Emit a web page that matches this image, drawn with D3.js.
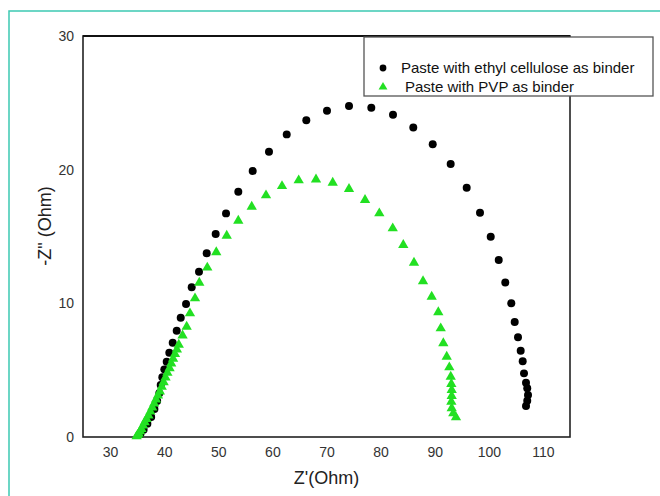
<!DOCTYPE html>
<html>
<head>
<meta charset="utf-8">
<script src="https://cdn.jsdelivr.net/npm/d3@7"></script>
<style>
  body { margin: 0; background: #fff; }
  svg { display: block; font-family: "Liberation Sans", Arial, sans-serif; }
</style>
</head>
<body>
<div id="chart"></div>
<script>
// Nyquist data: Z' (Ohm) and -Z'' (Ohm)
const ecZre = [35.6, 36.2, 36.9, 37.6, 38.2, 38.7, 39.1, 39.36, 39.66, 40.03, 40.47, 40.95, 41.58, 42.32, 43.06, 44.04, 45.09, 46.44, 47.86, 49.52, 51.43, 53.7, 56.36, 59.37, 62.65, 66.27, 70.09, 74.16, 78.28, 82.29, 86.04, 89.63, 92.95, 95.91, 98.37, 100.35, 101.83, 103.04, 104.15, 104.78, 105.39, 105.89, 106.26, 106.5, 106.87, 107.1, 107.24, 107.1, 106.87];
const ecZim = [0.2, 0.55, 1.0, 1.5, 2.1, 2.7, 3.27, 3.89, 4.47, 5.06, 5.63, 6.31, 7.05, 7.95, 8.92, 9.95, 11.2, 12.36, 13.74, 15.18, 16.73, 18.35, 19.9, 21.34, 22.64, 23.69, 24.41, 24.76, 24.63, 24.1, 23.16, 21.91, 20.42, 18.65, 16.78, 14.98, 13.24, 11.56, 10.0, 8.6, 7.46, 6.45, 5.66, 4.76, 4.06, 3.64, 3.14, 2.71, 2.32];

const pvpZre = [34.9, 35.1, 35.3, 35.55, 35.8, 36.1, 36.4, 36.75, 37.1, 37.45, 37.8, 38.15, 38.5, 38.85, 39.2, 39.55, 39.9, 40.25, 40.6, 41.0, 41.3, 41.65, 42.0, 42.35, 42.7, 43.4, 44.16, 44.77, 45.7, 46.49, 47.97, 49.63, 51.56, 53.7, 56.18, 58.82, 61.78, 64.86, 68.06, 71.15, 74.16, 77.12, 79.76, 82.24, 84.19, 86.17, 87.84, 89.44, 90.66, 91.11, 91.59, 92.22, 92.7, 92.96, 93.07, 93.14, 93.14, 93.07, 93.14, 93.43, 93.93];
const pvpZim = [0.05, 0.15, 0.25, 0.42, 0.6, 0.85, 1.1, 1.35, 1.6, 1.9, 2.2, 2.5, 2.8, 3.1, 3.4, 3.75, 4.1, 4.45, 4.8, 5.15, 5.5, 5.85, 6.2, 6.55, 6.9, 7.6, 8.25, 9.25, 10.37, 11.54, 12.67, 13.82, 15.06, 16.18, 17.23, 18.08, 18.77, 19.2, 19.27, 19.02, 18.55, 17.73, 16.73, 15.61, 14.36, 13.04, 11.65, 10.49, 9.33, 8.13, 7.01, 6.01, 5.21, 4.51, 3.96, 3.52, 3.07, 2.64, 2.15, 1.77, 1.47];

const xTicks = [30, 40, 50, 60, 70, 80, 90, 100, 110];
const yTicks = [0, 10, 20, 30];
const seriesNames = ["Paste with ethyl cellulose as binder", "Paste with PVP as binder"];

const width = 660, height = 496;
const plot = { left: 83, top: 36, right: 570, bottom: 437 };
const green = "#22e022";

const svg = d3.select("#chart").append("svg")
  .attr("width", width)
  .attr("height", height);

// teal page frame (only top and left edges show)
svg.append("rect")
  .attr("x", 9).attr("y", 11)
  .attr("width", 800).attr("height", 700)
  .attr("fill", "none")
  .attr("stroke", "#3cc9b2")
  .attr("stroke-width", 1.5);

const x = d3.scaleLinear().domain([25, 115]).range([plot.left, plot.right]);
const y = d3.scaleLinear().domain([0, 30]).range([plot.bottom, plot.top]);

// plot frame
svg.append("rect")
  .attr("x", plot.left).attr("y", plot.top)
  .attr("width", plot.right - plot.left)
  .attr("height", plot.bottom - plot.top)
  .attr("fill", "none")
  .attr("stroke", "#222")
  .attr("stroke-width", 1.6);
svg.append("line")
  .attr("x1", plot.left).attr("x2", plot.right)
  .attr("y1", plot.top).attr("y2", plot.top)
  .attr("stroke", "#111").attr("stroke-width", 2.2);

// axes: labels only, no tick marks
const xAxis = svg.append("g")
  .attr("transform", `translate(0,${plot.bottom})`)
  .call(d3.axisBottom(x).tickValues(xTicks).tickSize(0).tickPadding(10));
const yAxis = svg.append("g")
  .attr("transform", `translate(${plot.left},0)`)
  .call(d3.axisLeft(y).tickValues(yTicks).tickSize(0).tickPadding(9));
[xAxis, yAxis].forEach(g => {
  g.select(".domain").remove();
  g.selectAll("text")
    .attr("fill", "#333")
    .style("font-size", "14px")
    .style("font-family", "'Liberation Sans', Arial, sans-serif");
});

svg.append("text")
  .attr("x", (plot.left + plot.right) / 2)
  .attr("y", 484)
  .attr("text-anchor", "middle")
  .attr("fill", "#222")
  .style("font-size", "18px")
  .text("Z'(Ohm)");

svg.append("text")
  .attr("transform", "translate(51,226) rotate(-90)")
  .attr("text-anchor", "middle")
  .attr("fill", "#222")
  .style("font-size", "18px")
  .text('-Z" (Ohm)');

const circle = d3.symbol().type(d3.symbolCircle).size(50);
const tri = d3.symbol().type(d3.symbolTriangle).size(46);

svg.append("g").selectAll("path")
  .data(ecZre.map((v, i) => [v, ecZim[i]]))
  .join("path")
  .attr("transform", d => `translate(${x(d[0])},${y(d[1])})`)
  .attr("d", circle)
  .attr("fill", "#000");

svg.append("g").selectAll("path")
  .data(pvpZre.map((v, i) => [v, pvpZim[i]]))
  .join("path")
  .attr("transform", d => `translate(${x(d[0])},${y(d[1])})`)
  .attr("d", tri)
  .attr("fill", green);

// legend box sits over the top right corner of the frame
const legend = svg.append("g");
legend.append("rect")
  .attr("x", 364).attr("y", 37)
  .attr("width", 289).attr("height", 59)
  .attr("fill", "#fff")
  .attr("stroke", "#555")
  .attr("stroke-width", 1.3);

legend.append("path")
  .attr("transform", "translate(383,68)")
  .attr("d", d3.symbol().type(d3.symbolCircle).size(36))
  .attr("fill", "#000");
legend.append("path")
  .attr("transform", "translate(383,87)")
  .attr("d", d3.symbol().type(d3.symbolTriangle).size(34))
  .attr("fill", green);

legend.append("text")
  .attr("x", 401).attr("y", 73)
  .attr("fill", "#111")
  .style("font-size", "15px")
  .text(seriesNames[0]);
legend.append("text")
  .attr("x", 405).attr("y", 92)
  .attr("fill", "#111")
  .style("font-size", "15px")
  .text(seriesNames[1]);
</script>
</body>
</html>
